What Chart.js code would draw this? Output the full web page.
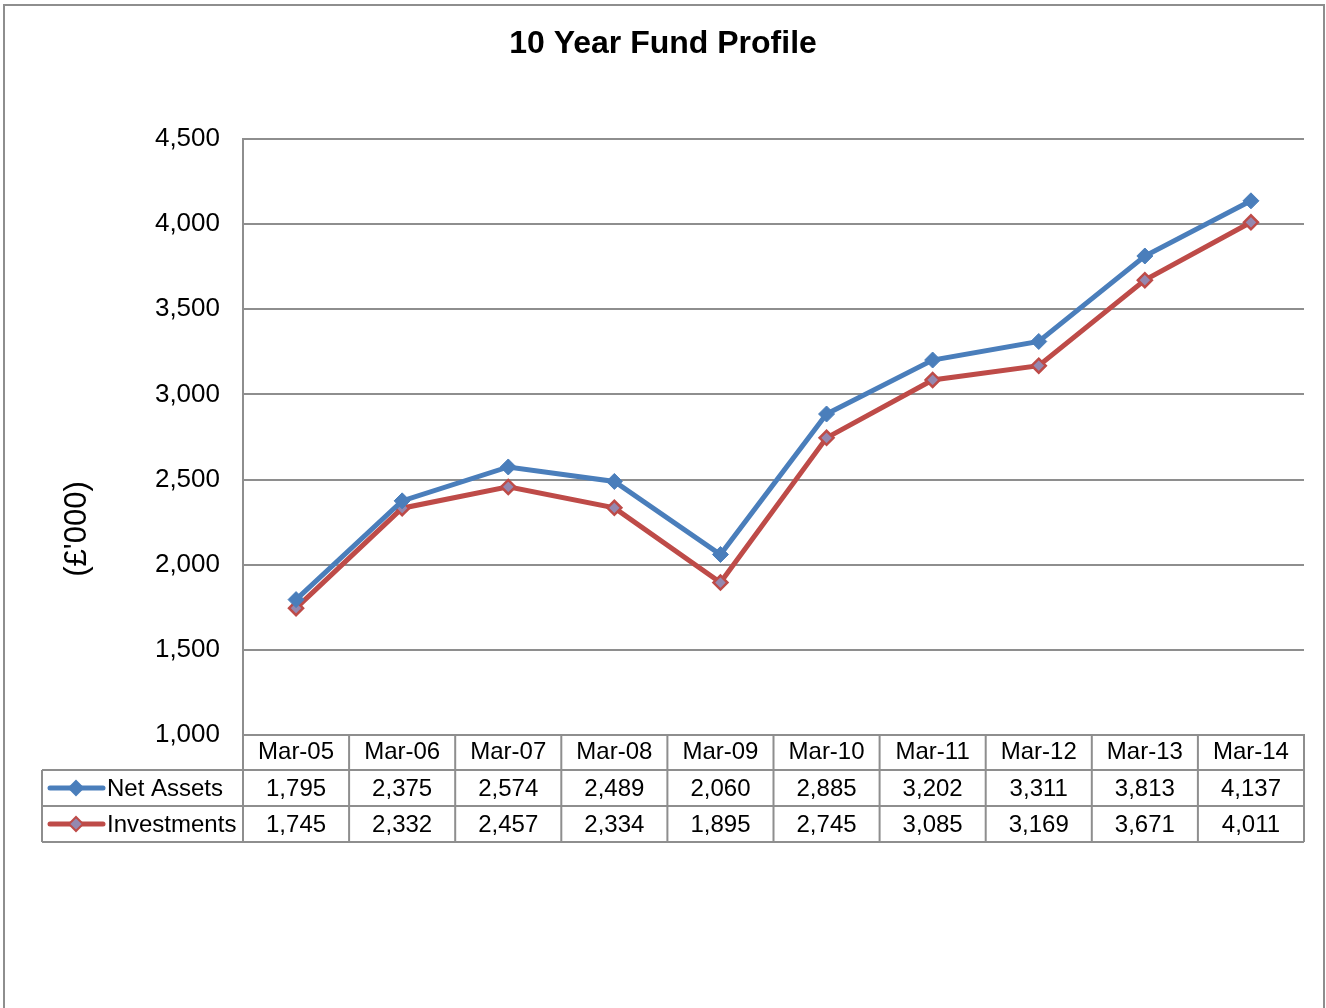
<!DOCTYPE html>
<html lang="en">

<head>
    <meta charset="UTF-8">
    <title>10 Year Fund Profile</title>
    <style>
        body { margin: 0; background: #fff; }
        #frame { position: absolute; left: 3px; top: 4px; width: 1322px; height: 1030px;
                 border: 2px solid #8e8e8e; box-sizing: border-box; }
        #wrap { position: absolute; left: 0; top: 0; width: 1326px; height: 1008px; }
    </style>
</head>

<body>
    <div id="frame"></div>
    <div id="wrap">
        <canvas id="fundChart" width="1326" height="1008"></canvas>
    </div>

    <script src="https://cdn.jsdelivr.net/npm/chart.js"></script>

    <script>
        var labels = ["Mar-05", "Mar-06", "Mar-07", "Mar-08", "Mar-09", "Mar-10", "Mar-11", "Mar-12", "Mar-13", "Mar-14"];
        var netAssets = [1795, 2375, 2574, 2489, 2060, 2885, 3202, 3311, 3813, 4137];
        var investments = [1745, 2332, 2457, 2334, 1895, 2745, 3085, 3169, 3671, 4011];
        var yMin = 1000;
        var yMax = 4500;
        var yStep = 500;

        var BLUE = "#4a7ebb";
        var RED = "#be4b48";
        var RED_FILL = "#9488b0";
        var GRID = "#8e8e8e";
        var FONT = "'Liberation Sans', Arial, sans-serif";

        function fmt(v) {
            return v.toLocaleString("en-US");
        }

        // data table under the plot + y axis caption
        var dataTable = {
            id: "dataTable",
            afterDraw: function (chart) {
                var ctx = chart.ctx;
                var xs = chart.scales.x;
                var area = chart.chartArea;
                var colW = xs.getPixelForValue(1) - xs.getPixelForValue(0);
                var top = area.bottom;
                var rowH = [35, 36, 36];
                var legendLeft = 42;
                var rows = [
                    { name: "Net Assets", data: netAssets, color: BLUE, fill: BLUE },
                    { name: "Investments", data: investments, color: RED, fill: RED_FILL }
                ];

                ctx.save();
                ctx.strokeStyle = GRID;
                ctx.lineWidth = 2;
                ctx.beginPath();
                var y = top;
                for (var r = 0; r < rowH.length; r++) {
                    y += rowH[r];
                    ctx.moveTo(legendLeft, y);
                    ctx.lineTo(area.right, y);
                }
                var bottom = y;
                for (var i = 0; i <= labels.length; i++) {
                    var px = xs.getPixelForValue(0) - colW / 2 + i * colW;
                    ctx.moveTo(px, top);
                    ctx.lineTo(px, bottom);
                }
                ctx.moveTo(legendLeft, top + rowH[0]);
                ctx.lineTo(legendLeft, bottom);
                ctx.stroke();

                ctx.font = "24px " + FONT;
                ctx.fillStyle = "#000";
                ctx.textBaseline = "middle";
                var rowTop = top + rowH[0];
                rows.forEach(function (row, k) {
                    var cy = rowTop + rowH[k + 1] / 2;
                    // legend key
                    ctx.strokeStyle = row.color;
                    ctx.lineWidth = 5;
                    ctx.lineCap = "round";
                    ctx.beginPath();
                    ctx.moveTo(50, cy);
                    ctx.lineTo(103, cy);
                    ctx.stroke();
                    ctx.beginPath();
                    ctx.moveTo(76, cy - 7);
                    ctx.lineTo(83, cy);
                    ctx.lineTo(76, cy + 7);
                    ctx.lineTo(69, cy);
                    ctx.closePath();
                    ctx.fillStyle = row.fill;
                    ctx.fill();
                    ctx.lineWidth = 2;
                    ctx.stroke();

                    ctx.fillStyle = "#000";
                    ctx.textAlign = "left";
                    ctx.fillText(row.name, 107, cy + 1);
                    ctx.textAlign = "center";
                    row.data.forEach(function (v, j) {
                        ctx.fillText(fmt(v), xs.getPixelForValue(j), cy + 1);
                    });
                    rowTop += rowH[k + 1];
                });

                // y axis caption
                ctx.translate(77, 529);
                ctx.rotate(-Math.PI / 2);
                ctx.font = "31px " + FONT;
                ctx.textAlign = "center";
                ctx.fillText("(£'000)", 0, 0);
                ctx.restore();
            }
        };

        var chart = new Chart("fundChart", {
            type: "line",
            data: {
                labels: labels,
                datasets: [{
                    label: "Net Assets",
                    data: netAssets,
                    borderColor: BLUE,
                    backgroundColor: BLUE,
                    borderWidth: 5,
                    pointStyle: "rectRot",
                    pointRadius: 8,
                    pointBackgroundColor: BLUE,
                    pointBorderColor: BLUE,
                    pointBorderWidth: 1,
                    tension: 0
                },
                {
                    label: "Investments",
                    data: investments,
                    borderColor: RED,
                    backgroundColor: RED,
                    borderWidth: 5,
                    pointStyle: "rectRot",
                    pointRadius: 7,
                    pointBackgroundColor: RED_FILL,
                    pointBorderColor: RED,
                    pointBorderWidth: 2.5,
                    tension: 0
                }]
            },
            options: {
                responsive: false,
                animation: false,
                layout: { padding: { left: 22, right: 22, top: 0, bottom: 0 } },
                plugins: {
                    legend: { display: false },
                    tooltip: { enabled: false },
                    title: {
                        display: true,
                        text: "10 Year Fund Profile",
                        color: "#000",
                        font: { family: FONT, size: 32, weight: "bold" },
                        padding: { top: 25, bottom: 75.6 }
                    }
                },
                scales: {
                    x: {
                        offset: true,
                        grid: { display: false, drawTicks: false },
                        border: { display: true, color: GRID, width: 2 },
                        ticks: {
                            color: "#000",
                            padding: 3,
                            maxRotation: 0,
                            font: { family: FONT, size: 24 }
                        },
                        afterFit: function (scale) { scale.height = 273; }
                    },
                    y: {
                        min: yMin,
                        max: yMax,
                        grid: { color: GRID, lineWidth: 2, drawTicks: false },
                        border: { display: true, color: GRID, width: 2 },
                        ticks: {
                            stepSize: yStep,
                            color: "#000",
                            padding: 23,
                            font: { family: FONT, size: 26 },
                            callback: function (v) { return fmt(v); }
                        },
                        afterFit: function (scale) { scale.width = 221; }
                    }
                }
            },
            plugins: [dataTable]
        });
    </script>
</body>

</html>
